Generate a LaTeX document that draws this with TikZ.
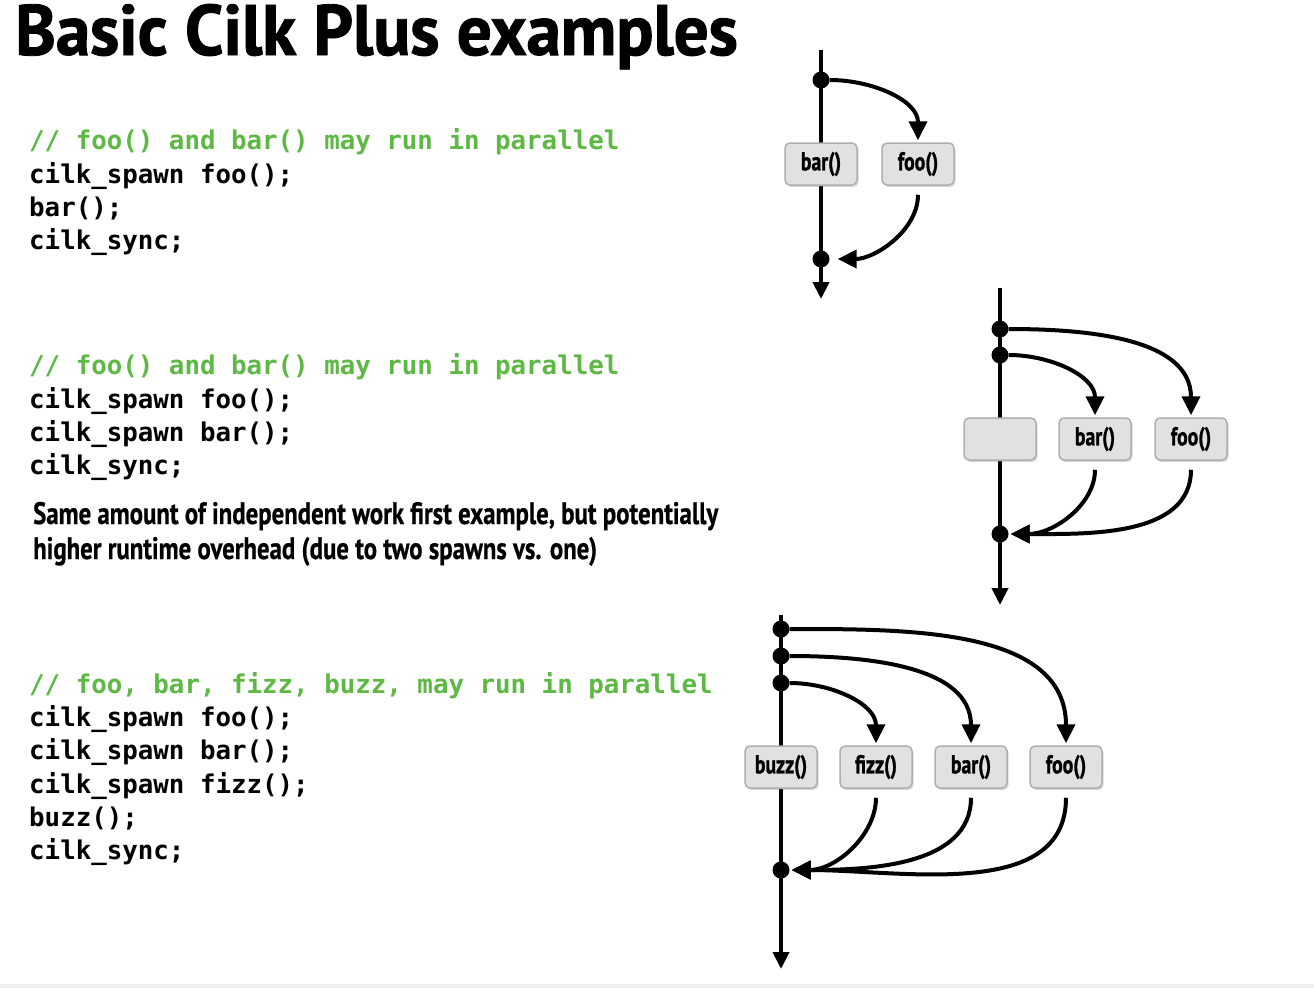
\documentclass[tikz,border=0pt]{standalone}
\usepackage{fontspec}
\usetikzlibrary{arrows.meta,shadows}
\newfontfamily\condfont[FakeStretch=0.72,FakeBold=1.2]{PT Sans Bold}
\newfontfamily\labelfont[FakeStretch=0.76,FakeBold=1.0]{PT Sans Bold}
\newfontfamily\prosefont[FakeStretch=0.80,FakeBold=0.6]{PT Sans Bold}
\newfontfamily\codefont{DejaVu Sans Mono}
\definecolor{cgreen}{HTML}{5DB844}
\definecolor{boxfill}{HTML}{E1E1E1}
\definecolor{boxline}{HTML}{AFAFAF}
\definecolor{stripgray}{HTML}{EEEEEE}
\begin{document}
\begin{tikzpicture}[x=1pt,y=1pt,
  cline/.style={anchor=base west, inner sep=0, font=\codefont\bfseries\fontsize{25.8}{30}\selectfont},
  cgline/.style={cline, text=cgreen},
  prose/.style={anchor=base west, inner sep=0, font=\prosefont\fontsize{31}{36}\selectfont},
  fnbox/.style={draw=boxline, line width=1.5pt, fill=boxfill, rounded corners=5pt, minimum width=72pt, minimum height=42pt, inner sep=0, font=\labelfont\fontsize{26}{28}\selectfont, drop shadow={shadow xshift=1.5pt, shadow yshift=-2pt, opacity=0.3, fill=gray}},
  syncdot/.style={circle, fill=black, minimum size=17pt, inner sep=0},
  thread/.style={line width=4pt, -{Triangle[length=17pt,width=16pt]}},
  spawnarrow/.style={line width=4pt, -{Triangle[length=19pt,width=18pt]}, shorten >=2pt},
  joinarrow/.style={line width=4pt, -{Triangle[length=19pt,width=18pt]}, shorten <=9pt},
]
\useasboundingbox (0,0) rectangle (1314,-988);
\fill[white] (0,0) rectangle (1314,-988);
\fill[stripgray] (0,-984) rectangle (1314,-988);

% title
\node[anchor=base west, inner sep=0] (title) at (15,-55) {\resizebox{722pt}{51pt}{\condfont Basic Cilk Plus examples}};

% code block 1
\node[cgline] (c1a) at (29,-149) {// foo() and bar() may run in parallel};
\node[cline] (c1b) at (29,-183) {cilk\_spawn foo();};
\node[cline] (c1c) at (29,-216) {bar();};
\node[cline] (c1d) at (29,-249) {cilk\_sync;};

% code block 2
\node[cgline] (c2a) at (29,-374) {// foo() and bar() may run in parallel};
\node[cline] (c2b) at (29,-408) {cilk\_spawn foo();};
\node[cline] (c2c) at (29,-441) {cilk\_spawn bar();};
\node[cline] (c2d) at (29,-474) {cilk\_sync;};

\node[prose] (p1) at (33,-524) {Same amount of independent work first example, but potentially};
\node[prose] (p2) at (33,-559) {higher runtime overhead (due to two spawns vs. one)};

% code block 3
\node[cgline] (c3a) at (29,-693) {// foo, bar, fizz, buzz, may run in parallel};
\node[cline] (c3b) at (29,-726) {cilk\_spawn foo();};
\node[cline] (c3c) at (29,-759) {cilk\_spawn bar();};
\node[cline] (c3d) at (29,-793) {cilk\_spawn fizz();};
\node[cline] (c3e) at (29,-826) {buzz();};
\node[cline] (c3f) at (29,-859) {cilk\_sync;};

% ---------- diagram 1
\coordinate (t1) at (821,-50);
\coordinate (b1) at (821,-299);
\draw[thread] (t1) -- (b1);
\node[fnbox] (bar1) at (821,-164) {bar()};
\node[fnbox] (foo1) at (918,-164) {foo()};
\node[syncdot] (s1) at (821,-80) {};
\node[syncdot] (j1) at (821,-259) {};
\draw[spawnarrow] (s1) to[out=0,in=90] (foo1.north);
\draw[joinarrow, shorten >=8pt] (foo1.south) to[out=-90,in=0] (j1);

% ---------- diagram 2
\coordinate (t2) at (1000,-288);
\coordinate (b2) at (1000,-605);
\draw[thread] (t2) -- (b2);
\node[fnbox] (e2) at (1000,-439) {};
\node[fnbox] (bar2) at (1095,-439) {bar()};
\node[fnbox] (foo2) at (1191,-439) {foo()};
\node[syncdot] (s2a) at (1000,-329) {};
\node[syncdot] (s2b) at (1000,-355) {};
\node[syncdot] (j2) at (1000,-534) {};
\draw[spawnarrow] (s2a) to[out=0,in=90] (foo2.north);
\draw[spawnarrow] (s2b) to[out=0,in=90] (bar2.north);
\draw[joinarrow, shorten >=2pt] (bar2.south) to[out=-90,in=0] (j2);
\draw[joinarrow, shorten >=2pt] (foo2.south) to[out=-90,in=0] (j2);

% ---------- diagram 3
\coordinate (t3) at (781,-615);
\coordinate (b3) at (781,-969);
\draw[thread] (t3) -- (b3);
\node[fnbox] (buzz3) at (781,-767) {buzz()};
\node[fnbox] (fizz3) at (876,-767) {fizz()};
\node[fnbox] (bar3) at (971,-767) {bar()};
\node[fnbox] (foo3) at (1066,-767) {foo()};
\node[syncdot] (s3a) at (781,-629) {};
\node[syncdot] (s3b) at (781,-656) {};
\node[syncdot] (s3c) at (781,-683) {};
\node[syncdot] (j3) at (781,-870) {};
\draw[spawnarrow] (s3a) to[out=0,in=90] (foo3.north);
\draw[spawnarrow] (s3b) to[out=0,in=90] (bar3.north);
\draw[spawnarrow] (s3c) to[out=0,in=90] (fizz3.north);
\draw[joinarrow, shorten >=2pt] (fizz3.south) to[out=-90,in=0] (j3);
\draw[joinarrow, shorten >=2pt] (bar3.south) to[out=-90,in=0] (j3);
\draw[joinarrow, shorten >=2pt] (foo3.south) to[out=-90,in=0] (j3);
\end{tikzpicture}
\end{document}
